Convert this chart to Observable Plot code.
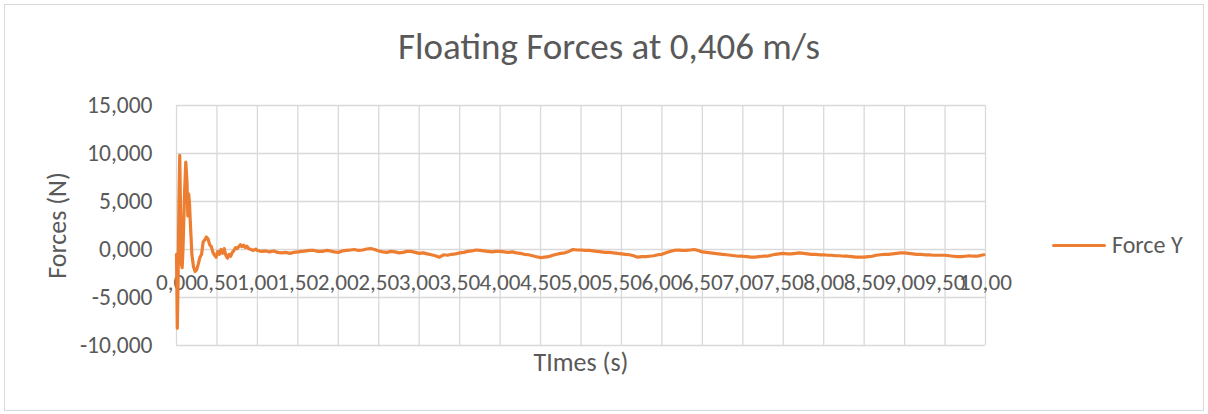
<!DOCTYPE html>
<html>
<head>
<meta charset="utf-8">
<script src="https://cdn.jsdelivr.net/npm/d3@7"></script>
<script src="https://cdn.jsdelivr.net/npm/@observablehq/plot@0.6"></script>
<style>
  html, body { margin: 0; padding: 0; background: #fff; }
  #wrap { position: relative; width: 1208px; height: 414px; overflow: hidden; font-family: Carlito, Calibri, Lato, sans-serif; color: #595959; }
  #frame { position: absolute; left: 4px; top: 4px; width: 1198px; height: 405px; border: 1px solid #d9d9d9; }
  #chart { position: absolute; left: 0; top: 0; }
  #title { position: absolute; left: 0; width: 1218px; top: 25px; text-align: center; font-size: 37px; line-height: 44px; white-space: nowrap; }
  #legend { position: absolute; left: 1052px; top: 230px; display: flex; align-items: center; font-size: 24px; line-height: 30px; }
  #legend .sw { width: 54px; height: 0; border-top: 3px solid #ED7D31; border-radius: 2px; margin-right: 6px; }
</style>
</head>
<body>
<div id="wrap">
  <div id="frame"></div>
  <div id="chart"></div>
  <div id="title">Floating Forces at 0,406 m/s</div>
  <div id="legend"><div class="sw"></div><span>Force Y</span></div>
</div>
<script>
// Time (s)
const times = [
  0.00, 0.01, 0.02, 0.03, 0.04, 0.05, 0.06, 0.07, 0.08, 0.09,
  0.10, 0.115, 0.13, 0.14, 0.15, 0.16, 0.17, 0.19, 0.21, 0.23,
  0.25, 0.27, 0.29, 0.31, 0.33, 0.35, 0.37, 0.39, 0.41, 0.43,
  0.45, 0.47, 0.49, 0.51, 0.53, 0.55, 0.57, 0.59, 0.61, 0.63,
  0.65, 0.67, 0.69, 0.71, 0.73, 0.75, 0.77, 0.79, 0.81, 0.83,
  0.85, 0.87, 0.89, 0.92, 0.95, 0.98,
  1.00, 1.05, 1.10, 1.15, 1.20, 1.25, 1.30, 1.35, 1.40, 1.45,
  1.50, 1.55, 1.60, 1.65, 1.70, 1.75, 1.80, 1.85, 1.90, 1.95,
  2.00, 2.05, 2.10, 2.15, 2.20, 2.25, 2.30, 2.35, 2.40, 2.45,
  2.50, 2.55, 2.60, 2.65, 2.70, 2.75, 2.80, 2.85, 2.90, 2.95,
  3.00, 3.05, 3.10, 3.15, 3.20, 3.25, 3.30, 3.35, 3.40, 3.45,
  3.50, 3.55, 3.60, 3.65, 3.70, 3.75, 3.80, 3.85, 3.90, 3.95,
  4.00, 4.05, 4.10, 4.15, 4.20, 4.25, 4.30, 4.35, 4.40, 4.45,
  4.50, 4.55, 4.60, 4.65, 4.70, 4.75, 4.80, 4.85, 4.90, 4.95,
  5.00, 5.05, 5.10, 5.15, 5.20, 5.25, 5.30, 5.35, 5.40, 5.45,
  5.50, 5.55, 5.60, 5.65, 5.70, 5.75, 5.80, 5.85, 5.90, 5.95,
  6.00, 6.05, 6.10, 6.15, 6.20, 6.25, 6.30, 6.35, 6.40, 6.45,
  6.50, 6.55, 6.60, 6.65, 6.70, 6.75, 6.80, 6.85, 6.90, 6.95,
  7.00, 7.05, 7.10, 7.15, 7.20, 7.25, 7.30, 7.35, 7.40, 7.45,
  7.50, 7.55, 7.60, 7.65, 7.70, 7.75, 7.80, 7.85, 7.90, 7.95,
  8.00, 8.05, 8.10, 8.15, 8.20, 8.25, 8.30, 8.35, 8.40, 8.45,
  8.50, 8.55, 8.60, 8.65, 8.70, 8.75, 8.80, 8.85, 8.90, 8.95,
  9.00, 9.05, 9.10, 9.15, 9.20, 9.25, 9.30, 9.35, 9.40, 9.45,
  9.50, 9.55, 9.60, 9.65, 9.70, 9.75, 9.80, 9.85, 9.90, 9.95,
  9.98
];
// Force Y (N)
const forceY = [
  -0.5, -8.2, -3.0, 5.0, 9.8, 4.0, -1.5, -1.9, 0.0, 3.0,
  6.0, 9.1, 7.0, 3.5, 5.8, 4.9, 3.0, -0.5, -1.8, -2.3,
  -2.1, -1.5, -0.8, -0.5, 0.8, 1.0, 1.3, 1.1, 0.5, 0.3,
  -0.3, -0.6, -0.8, -0.2, -0.5, 0.0, -0.4, 0.1, -0.6, -0.9,
  -0.5, -0.7, -0.3, -0.1, 0.2, 0.1, 0.3, 0.5, 0.3, 0.45,
  0.2, 0.35, 0.1, 0.0, -0.1, 0.05,
  -0.1, -0.2, -0.15, -0.25, -0.15, -0.3, -0.35, -0.3, -0.4, -0.3,
  -0.25, -0.2, -0.15, -0.1, -0.1, -0.2, -0.2, -0.1, -0.15, -0.25,
  -0.3, -0.15, -0.1, -0.05, 0.0, -0.1, -0.05, 0.05, 0.1, 0.0,
  -0.15, -0.25, -0.3, -0.2, -0.25, -0.35, -0.3, -0.2, -0.2, -0.3,
  -0.4, -0.35, -0.45, -0.55, -0.65, -0.8, -0.55, -0.6, -0.5, -0.45,
  -0.35, -0.3, -0.2, -0.15, -0.05, -0.1, -0.15, -0.2, -0.25, -0.2,
  -0.2, -0.25, -0.3, -0.25, -0.35, -0.4, -0.5, -0.55, -0.65, -0.75,
  -0.85, -0.8, -0.75, -0.6, -0.5, -0.4, -0.35, -0.2, 0.0, -0.05,
  -0.05, -0.1, -0.1, -0.15, -0.2, -0.25, -0.3, -0.3, -0.35, -0.4,
  -0.45, -0.5, -0.55, -0.65, -0.8, -0.75, -0.75, -0.7, -0.65, -0.55,
  -0.5, -0.35, -0.2, -0.1, -0.05, -0.1, -0.1, -0.05, 0.0, -0.1,
  -0.25, -0.3, -0.35, -0.4, -0.45, -0.5, -0.55, -0.6, -0.65, -0.7,
  -0.7, -0.75, -0.8, -0.8, -0.75, -0.7, -0.7, -0.6, -0.5, -0.45,
  -0.4, -0.45, -0.45, -0.4, -0.35, -0.4, -0.45, -0.5, -0.5, -0.55,
  -0.55, -0.6, -0.6, -0.65, -0.65, -0.7, -0.7, -0.75, -0.8, -0.8,
  -0.8, -0.75, -0.7, -0.6, -0.55, -0.5, -0.5, -0.45, -0.4, -0.35,
  -0.35, -0.4, -0.45, -0.5, -0.5, -0.55, -0.55, -0.6, -0.6, -0.6,
  -0.6, -0.65, -0.7, -0.75, -0.75, -0.7, -0.65, -0.7, -0.7, -0.6,
  -0.55
];
const yTicks = [-10, -5, 0, 5, 10, 15];
const xTicks = [0, 0.5, 1, 1.5, 2, 2.5, 3, 3.5, 4, 4.5, 5, 5.5, 6, 6.5, 7, 7.5, 8, 8.5, 9, 9.5, 10];

const data = times.map((t, i) => ({t, f: forceY[i]}));
const loc = d3.formatLocale({decimal: ",", thousands: ".", grouping: [3], currency: ["", ""], minus: "-"});
const fy = loc.format(".3f");
const fx = loc.format(".2f");
const font = "Carlito, Calibri, Lato, sans-serif";
const grid = "#d9d9d9";

const chart = Plot.plot({
  width: 1208,
  height: 414,
  marginLeft: 176,
  marginRight: 223,
  marginTop: 105,
  marginBottom: 69,
  style: {fontFamily: font, fontSize: "23px", color: "#595959", background: "transparent", overflow: "visible"},
  x: {domain: [0, 10], axis: null},
  y: {domain: [-10, 15], axis: null},
  marks: [
    Plot.gridY(yTicks, {stroke: grid, strokeOpacity: 1, strokeWidth: 1.3}),
    Plot.gridX(xTicks, {stroke: grid, strokeOpacity: 1, strokeWidth: 1.3}),
    Plot.axisY(yTicks, {tickSize: 0, tickPadding: 24, tickFormat: fy, label: null, fontSize: 23.5, fill: "#595959"}),
    Plot.text(xTicks, {x: d => d, y: 0, dy: 33, text: d => fx(d), fontSize: 23.2, fill: "#595959"}),
    Plot.line(data, {x: "t", y: "f", stroke: "#ED7D31", strokeWidth: 3.2, strokeLinejoin: "round", strokeLinecap: "round"}),
    Plot.text(["Forces (N)"], {frameAnchor: "left", textAnchor: "middle", dx: -119, rotate: -90, fontSize: 26, fill: "#595959"}),
    Plot.text(["TImes (s)"], {frameAnchor: "bottom", dy: 25, fontSize: 26, fill: "#595959"})
  ]
});
document.getElementById("chart").appendChild(chart);
</script>
</body>
</html>
